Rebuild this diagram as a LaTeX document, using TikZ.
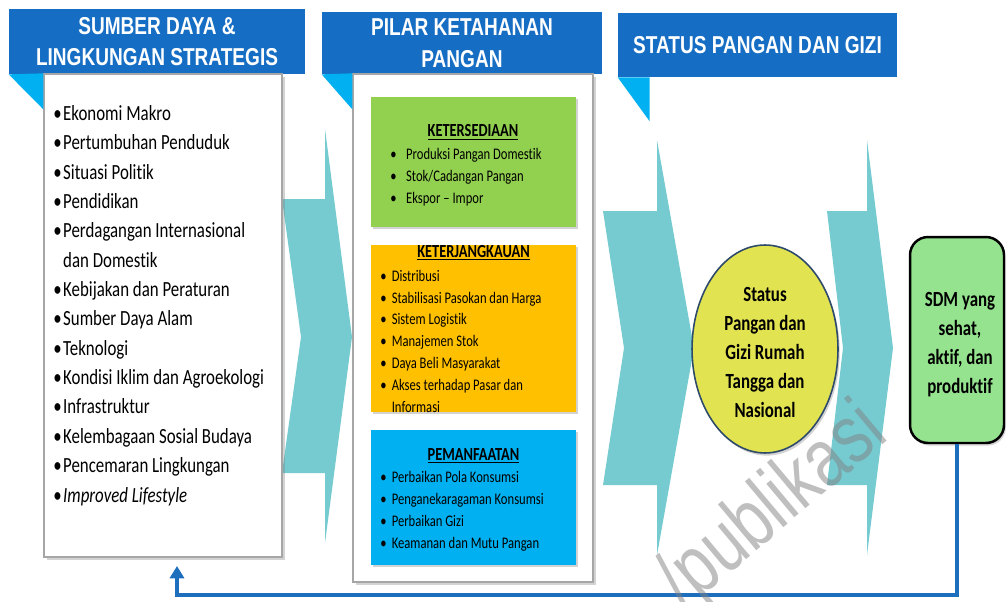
\documentclass[tikz,border=0pt]{standalone}
\usepackage{fontspec}
\setmainfont{Carlito}[FakeStretch=0.78, RawFeature=-liga]
\newfontfamily\headfont{Liberation Sans}[FakeStretch=0.78]
\usetikzlibrary{shapes.geometric,shadows,arrows.meta}

\definecolor{hdblue}{RGB}{22,110,196}
\definecolor{tricyan}{RGB}{0,176,240}
\definecolor{chevteal}{RGB}{118,203,209}
\definecolor{availgreen}{RGB}{146,208,80}
\definecolor{accessorange}{RGB}{255,192,0}
\definecolor{usecyan}{RGB}{0,176,240}
\definecolor{statyellow}{RGB}{226,227,80}
\definecolor{statedge}{RGB}{46,74,106}
\definecolor{sdmgreen}{RGB}{149,226,143}
\definecolor{loopblue}{RGB}{30,110,190}

\newcommand{\bul}[1]{\makebox[#1][l]{\textbullet}}

\tikzset{
    header/.style={fill=hdblue, text=white, align=center, inner sep=0pt,
        font=\headfont\bfseries\fontsize{13.9}{17.9}\selectfont},
    tri/.style={fill=tricyan},
    chev/.style={fill=chevteal},
    panel/.style={draw=gray!70, line width=0.8pt, fill=white, inner sep=0pt,
        drop shadow={opacity=0.35, shadow xshift=1.5pt, shadow yshift=-1.5pt}},
    pillar/.style={inner sep=0pt, drop shadow={opacity=0.35, shadow xshift=1pt, shadow yshift=-1pt}},
    pillartitle/.style={anchor=base, inner sep=0pt, font=\bfseries\fontsize{10.5}{12}\selectfont},
    pillarlist/.style={anchor=base west, align=left, inner sep=0pt, font=\fontsize{9.2}{12.4}\selectfont},
    biglabel/.style={anchor=base, align=center, inner sep=0pt, font=\bfseries\fontsize{12.3}{16.4}\selectfont},
    loopline/.style={draw=loopblue, line width=2.3pt, -{Triangle[width=8pt,length=7pt]}}
}

\begin{document}
\begin{tikzpicture}[x=0.02cm, y=-0.02cm]
    \useasboundingbox (0,0) rectangle (1006,601);
    \clip (0,0) rectangle (1006,601);

    % chevrons
    \fill[chev] (282,199) -- (325,199) -- (325,129) -- (352,337) -- (325,543) -- (325,473) -- (282,473) -- (301,337) -- cycle;
    \fill[chev] (603,211) -- (657,211) -- (657,140) -- (694,348) -- (657,555) -- (657,485) -- (603,485) -- (624,348) -- cycle;
    \fill[chev] (827,211) -- (867,211) -- (867,140) -- (893,348) -- (867,555) -- (867,485) -- (827,485) -- (843,348) -- cycle;

    % headers
    \node[header, minimum width=5.92cm, minimum height=1.3cm] (hd1) at (157,41.5) {SUMBER DAYA \&\\LINGKUNGAN STRATEGIS};
    \node[header, minimum width=5.6cm, minimum height=1.24cm] (hd2) at (462,43) {PILAR KETAHANAN\\PANGAN};
    \node[header, minimum width=5.58cm, minimum height=1.28cm] (hd3) at (757.5,45) {STATUS PANGAN DAN GIZI};

    % panels
    \node[panel, minimum width=4.76cm, minimum height=9.66cm] (box1) at (163,315.5) {};
    \node[panel, minimum width=4.8cm, minimum height=10.16cm] (box2) at (473,328) {};

    \fill[tri] (hd1.south west) -- (box1.north west) -- ++(0,36) -- cycle;
    \fill[tri] (hd2.south west) -- (box2.north west) -- ++(0,36) -- cycle;
    \fill[tri] (hd3.south west) -- ++(32,0) -- ++(0,44) -- cycle;

    % base anchor of a multi-line node = last line
    \node[anchor=base west, align=left, inner sep=0pt, font=\fontsize{12.3}{16.7}\selectfont] (strat) at (53,502) {%
        \bul{5.6pt}Ekonomi Makro\\
        \bul{5.6pt}Pertumbuhan Penduduk\\
        \bul{5.6pt}Situasi Politik\\
        \bul{5.6pt}Pendidikan\\
        \bul{5.6pt}Perdagangan Internasional\\
        \hspace*{5.6pt}dan Domestik\\
        \bul{5.6pt}Kebijakan dan Peraturan\\
        \bul{5.6pt}Sumber Daya Alam\\
        \bul{5.6pt}Teknologi\\
        \bul{5.6pt}Kondisi Iklim dan Agroekologi\\
        \bul{5.6pt}Infrastruktur\\
        \bul{5.6pt}Kelembagaan Sosial Budaya\\
        \bul{5.6pt}Pencemaran Lingkungan\\
        \bul{5.6pt}\textit{Improved Lifestyle}};

    % pillars
    \node[pillar, fill=availgreen, minimum width=4.1cm, minimum height=2.6cm] (avail) at (473.5,162) {};
    \node[pillar, fill=accessorange, minimum width=4.1cm, minimum height=3.34cm] (access) at (473.5,328.5) {};
    \node[pillar, fill=usecyan, minimum width=4.1cm, minimum height=2.7cm] (use) at (473.5,497.5) {};

    \node[pillartitle] (availt) at (473,137) {\underline{KETERSEDIAAN}};
    \node[pillarlist] (availl) at (390,203) {%
        \bul{9pt}Produksi Pangan Domestik\\
        \bul{9pt}Stok/Cadangan Pangan\\
        \bul{9pt}Ekspor – Impor};

    \node[pillartitle] (accesst) at (473.5,257) {\underline{KETERJANGKAUAN}};
    \node[pillarlist] (accessl) at (380,412) {%
        \bul{6.5pt}Distribusi\\
        \bul{6.5pt}Stabilisasi Pasokan dan Harga\\
        \bul{6.5pt}Sistem Logistik\\
        \bul{6.5pt}Manajemen Stok\\
        \bul{6.5pt}Daya Beli Masyarakat\\
        \bul{6.5pt}Akses terhadap Pasar dan\\
        \hspace*{6.5pt}Informasi};

    \node[pillartitle] (uset) at (473.5,460) {\underline{PEMANFAATAN}};
    \node[pillarlist] (usel) at (380,548) {%
        \bul{6.5pt}Perbaikan Pola Konsumsi\\
        \bul{6.5pt}Penganekaragaman Konsumsi\\
        \bul{6.5pt}Perbaikan Gizi\\
        \bul{6.5pt}Keamanan dan Mutu Pangan};

    % status and outcome
    \node[ellipse, draw=statedge, line width=0.9pt, fill=statyellow, minimum width=2.92cm, minimum height=4.16cm,
        drop shadow={opacity=0.35, shadow xshift=1pt, shadow yshift=-1.5pt}] (stat) at (765,349) {};
    \node[biglabel] (statt) at (765,417) {Status\\Pangan dan\\Gizi Rumah\\Tangga dan\\Nasional};

    \node[draw=black, line width=1.4pt, fill=sdmgreen, rounded corners=0.36cm, minimum width=1.88cm, minimum height=4.12cm,
        drop shadow={opacity=0.35, shadow xshift=1pt, shadow yshift=-1.5pt}] (sdm) at (957,340) {};
    \node[biglabel] (sdmt) at (960,393) {SDM yang\\sehat,\\aktif, dan\\produktif};

    % feedback
    \coordinate (fbend) at (177,566);
    \draw[loopline] (sdm.south) -- ++(0,151) -| (fbend);

    \node[rotate=40, text=gray, opacity=0.5, font=\headfont\fontsize{47}{47}\selectfont] (wm) at (774,508) {/publikasi};
\end{tikzpicture}
\end{document}
